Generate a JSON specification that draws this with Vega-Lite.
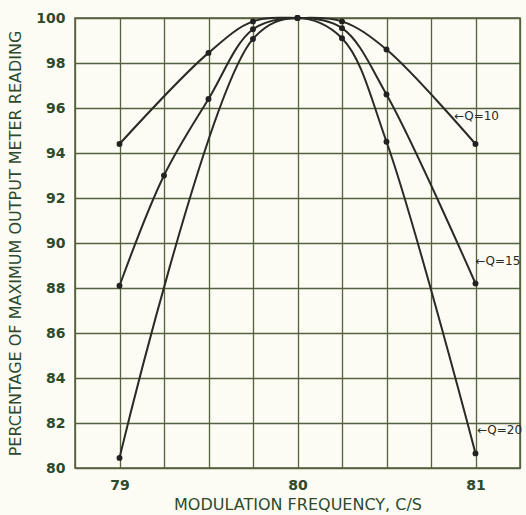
{
  "$schema": "https://vega.github.io/schema/vega-lite/v6.json",
  "width": 445,
  "height": 450,
  "autosize": "none",
  "padding": {"left": 75, "top": 18, "right": 6, "bottom": 47},
  "background": "#fcfcf4",
  "config": {
    "view": {"stroke": "#4f5a3c", "strokeWidth": 1.5},
    "axis": {"gridColor": "#55603f", "gridWidth": 1.3, "gridOpacity": 1, "domain": false, "ticks": false,
      "labelFont": "DejaVu Sans", "labelFontWeight": "bold", "labelColor": "#2d4a2d", "labelFontSize": 14,
      "titleFont": "DejaVu Sans", "titleFontWeight": "normal", "titleColor": "#2d4a2d", "titleFontSize": 16}
  },
  "datasets": {
    "curves": [
      {"Q": "Q=10", "f": 79.0, "p": 94.4},
      {"Q": "Q=10", "f": 79.5, "p": 98.45},
      {"Q": "Q=10", "f": 79.75, "p": 99.85},
      {"Q": "Q=10", "f": 80.0, "p": 100.0},
      {"Q": "Q=10", "f": 80.25, "p": 99.85},
      {"Q": "Q=10", "f": 80.5, "p": 98.6},
      {"Q": "Q=10", "f": 81.0, "p": 94.4},
      {"Q": "Q=15", "f": 79.0, "p": 88.1},
      {"Q": "Q=15", "f": 79.25, "p": 93.0},
      {"Q": "Q=15", "f": 79.5, "p": 96.4},
      {"Q": "Q=15", "f": 79.75, "p": 99.5},
      {"Q": "Q=15", "f": 80.0, "p": 100.0},
      {"Q": "Q=15", "f": 80.25, "p": 99.55},
      {"Q": "Q=15", "f": 80.5, "p": 96.6},
      {"Q": "Q=15", "f": 81.0, "p": 88.2},
      {"Q": "Q=20", "f": 79.0, "p": 80.45},
      {"Q": "Q=20", "f": 79.75, "p": 99.07},
      {"Q": "Q=20", "f": 80.0, "p": 100.0},
      {"Q": "Q=20", "f": 80.25, "p": 99.1},
      {"Q": "Q=20", "f": 80.5, "p": 94.5},
      {"Q": "Q=20", "f": 81.0, "p": 80.65}
    ],
    "labels": [
      {"t": "←Q=10", "f": 80.88, "p": 95.65},
      {"t": "←Q=15", "f": 81.0, "p": 89.2},
      {"t": "←Q=20", "f": 81.01, "p": 81.7}
    ]
  },
  "layer": [
    {
      "data": {"name": "curves"},
      "mark": {"type": "line", "interpolate": "catmull-rom", "color": "#2a2a26", "strokeWidth": 2},
      "encoding": {
        "x": {"field": "f", "type": "quantitative", "scale": {"domain": [78.75, 81.25], "nice": false, "zero": false},
          "axis": {"values": [78.75, 79, 79.25, 79.5, 79.75, 80, 80.25, 80.5, 80.75, 81, 81.25],
            "labelExpr": "datum.value == round(datum.value) ? format(datum.value, 'd') : ''",
            "labelPadding": 10, "title": "MODULATION   FREQUENCY,   C/S", "titlePadding": 4}},
        "y": {"field": "p", "type": "quantitative", "scale": {"domain": [80, 100], "nice": false, "zero": false},
          "axis": {"values": [80, 82, 84, 86, 88, 90, 92, 94, 96, 98, 100], "labelPadding": 10,
            "title": "PERCENTAGE   OF   MAXIMUM   OUTPUT   METER   READING", "titlePadding": 12}},
        "detail": {"field": "Q"}
      }
    },
    {
      "data": {"name": "curves"},
      "mark": {"type": "point", "filled": true, "color": "#222220", "size": 35, "opacity": 1},
      "encoding": {
        "x": {"field": "f", "type": "quantitative"},
        "y": {"field": "p", "type": "quantitative"}
      }
    },
    {
      "data": {"name": "labels"},
      "mark": {"type": "text", "align": "left", "baseline": "middle", "font": "DejaVu Sans", "fontSize": 12, "color": "#2a2a26"},
      "encoding": {
        "x": {"field": "f", "type": "quantitative"},
        "y": {"field": "p", "type": "quantitative"},
        "text": {"field": "t"}
      }
    }
  ]
}
